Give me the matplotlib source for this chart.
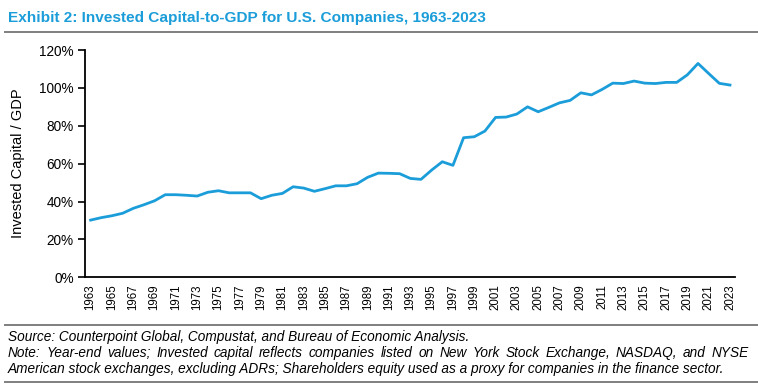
import matplotlib
matplotlib.use("Agg")
import matplotlib.pyplot as plt
from matplotlib.ticker import FuncFormatter, MultipleLocator
from matplotlib.lines import Line2D

years = list(range(1963, 2024))
invested_capital_to_gdp = [
    30.2, 31.5, 32.5, 33.8, 36.4, 38.3, 40.4, 43.6, 43.6, 43.3,
    42.9, 44.9, 45.7, 44.6, 44.6, 44.6, 41.5, 43.3, 44.3, 47.8,
    47.1, 45.4, 46.8, 48.3, 48.3, 49.4, 52.8, 55.0, 54.9, 54.7,
    52.2, 51.7, 56.6, 61.0, 59.1, 73.7, 74.2, 77.2, 84.4, 84.6,
    86.2, 90.0, 87.4, 89.7, 92.1, 93.4, 97.4, 96.3, 99.2, 102.5,
    102.3, 103.6, 102.5, 102.3, 102.9, 102.9, 106.9, 112.9, 107.6, 102.4,
    101.5,
]
tick_years = list(range(1963, 2024, 2))

title = "Exhibit 2: Invested Capital-to-GDP for U.S. Companies, 1963-2023"
ylabel = "Invested Capital / GDP"
source = "Source: Counterpoint Global, Compustat, and Bureau of Economic Analysis."
note1 = "Note: Year-end values; Invested capital reflects companies listed on New York Stock Exchange, NASDAQ, and NYSE"
note2 = "American stock exchanges, excluding ADRs; Shareholders equity used as a proxy for companies in the finance sector."

plt.rcParams['font.family'] = ['Liberation Sans', 'DejaVu Sans']

W, H = 758, 384
fig = plt.figure(figsize=(W / 100, H / 100), dpi=100)

ax = fig.add_axes([85 / W, (H - 277.3) / H, (735 - 85) / W, (277.3 - 50) / H])
ax.plot(years, invested_capital_to_gdp, color='#1b9dd9', lw=2.0, solid_joinstyle='round')
ax.set_xlim(1962.47, 2023.47)
ax.set_ylim(0, 120)
ax.yaxis.set_major_locator(MultipleLocator(20))
ax.yaxis.set_major_formatter(FuncFormatter(lambda v, p: f"{v:.0f}%"))
ax.set_xticks(tick_years)
ax.set_xticklabels([str(y) for y in tick_years], rotation=90, fontsize=8.3)
ax.tick_params(axis='x', length=0, pad=5)
ax.tick_params(axis='y', length=5, width=1.2, labelsize=9.8, pad=3, direction='out')
for s in ['top', 'right']:
    ax.spines[s].set_visible(False)
for s in ['left', 'bottom']:
    ax.spines[s].set_linewidth(1.3)
ax.set_ylabel(ylabel, fontsize=10.5)
ax.yaxis.set_label_coords((25 - 85) / 650, 0.5)

fig.text(8 / W, 1 - 18 / H, title, fontsize=11.1, fontweight='bold', color='#1b9dd9',
         ha='left', va='center')

for yy in [32, 324.5, 381.5]:
    fig.add_artist(Line2D([5 / W, 1.0], [1 - yy / H, 1 - yy / H], color='#7f7f7f', lw=1.4,
                          transform=fig.transFigure))

fs = 9.8
fig.text(8 / W, 1 - 337 / H, source, fontsize=fs, style='italic', ha='left', va='center')
fig.text(8 / W, 1 - 369 / H, note2, fontsize=fs, style='italic', ha='left', va='center')

# justify first note line across the width
words = note1.split(' ')
fig.canvas.draw()
renderer = fig.canvas.get_renderer()
tmp = [fig.text(0, 0, w, fontsize=fs, style='italic') for w in words]
widths = [t.get_window_extent(renderer).width for t in tmp]
for t in tmp:
    t.remove()
x0, x1 = 8, 749
gap = (x1 - x0 - sum(widths)) / (len(words) - 1)
x = x0
for w, wd in zip(words, widths):
    fig.text(x / W, 1 - 353 / H, w, fontsize=fs, style='italic', ha='left', va='center')
    x += wd + gap

fig.savefig('out.png', dpi=100)
